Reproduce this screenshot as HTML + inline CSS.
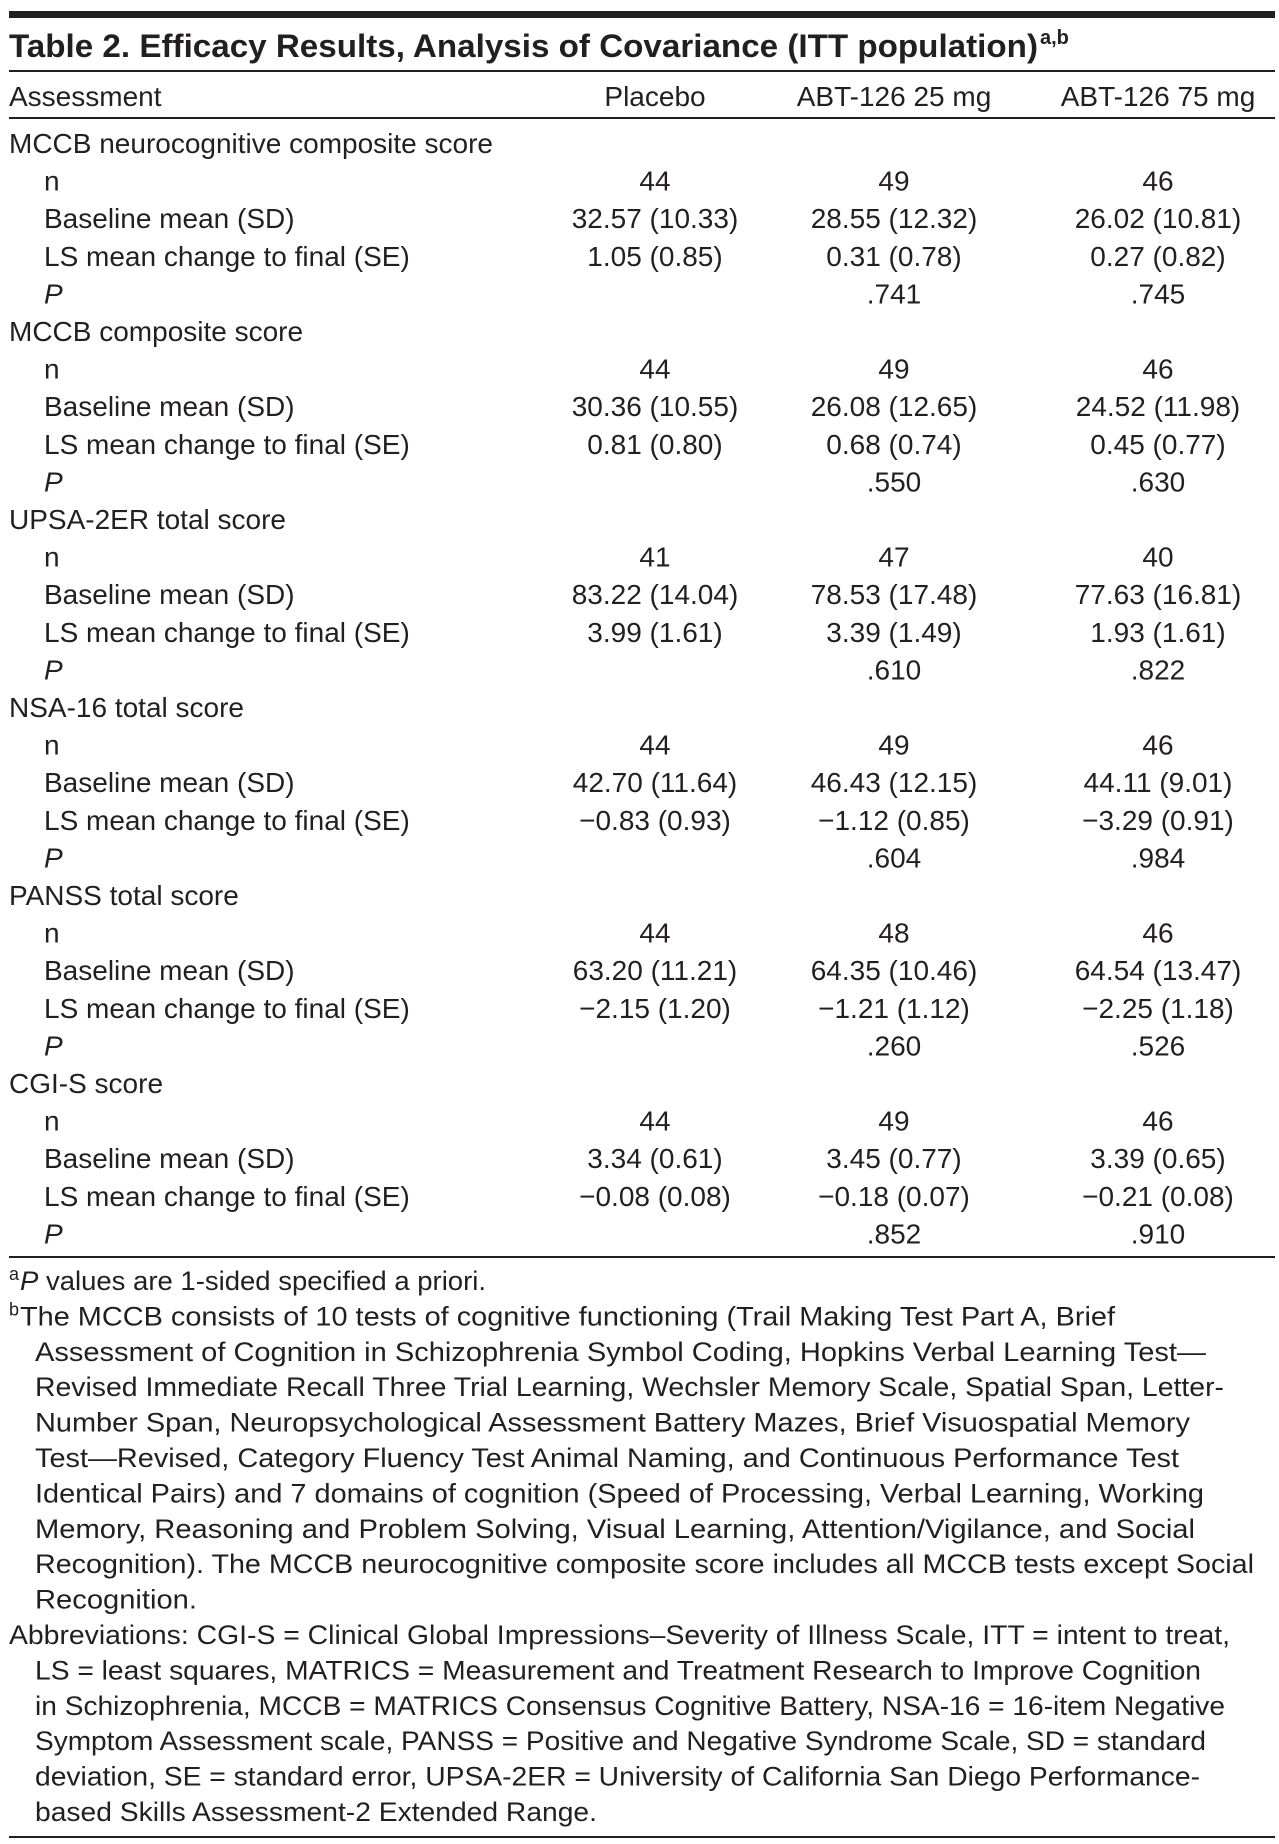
<!DOCTYPE html>
<html><head><meta charset="utf-8"><style>
html,body{margin:0;padding:0;background:#fff}
svg{display:block}
text{font-family:"Liberation Sans",sans-serif;fill:#231f20}
</style></head><body>
<svg id="tbl" width="1279" height="1844" viewBox="0 0 1279 1844" xmlns="http://www.w3.org/2000/svg">
<rect x="9" y="11" width="1266" height="7" fill="#231f20"/>
<text x="9" y="57" font-size="32" font-weight="bold" textLength="1029" lengthAdjust="spacingAndGlyphs">Table 2. Efficacy Results, Analysis of Covariance (ITT population)</text>
<text x="1040" y="44" font-size="20" font-weight="bold">a,b</text>
<rect x="9" y="70" width="1266" height="2" fill="#231f20"/>
<text x="9" y="106" font-size="28">Assessment</text>
<text x="655" y="106" font-size="28" text-anchor="middle">Placebo</text>
<text x="894" y="106" font-size="28" text-anchor="middle">ABT-126 25 mg</text>
<text x="1158" y="106" font-size="28" text-anchor="middle">ABT-126 75 mg</text>
<rect x="9" y="117" width="1266" height="2" fill="#231f20"/>
<g id="rows"></g>
<rect x="9" y="1256" width="1266" height="2" fill="#231f20"/>
<g id="notes"></g>
<rect x="9" y="1836" width="1266" height="2" fill="#231f20"/>
</svg>
<script>
const sections = ["MCCB neurocognitive composite score","MCCB composite score","UPSA-2ER total score","NSA-16 total score","PANSS total score","CGI-S score"];
const nVals = [["44","49","46"],["44","49","46"],["41","47","40"],["44","49","46"],["44","48","46"],["44","49","46"]];
const baseVals = [["32.57 (10.33)","28.55 (12.32)","26.02 (10.81)"],["30.36 (10.55)","26.08 (12.65)","24.52 (11.98)"],["83.22 (14.04)","78.53 (17.48)","77.63 (16.81)"],["42.70 (11.64)","46.43 (12.15)","44.11 (9.01)"],["63.20 (11.21)","64.35 (10.46)","64.54 (13.47)"],["3.34 (0.61)","3.45 (0.77)","3.39 (0.65)"]];
const lsVals = [["1.05 (0.85)","0.31 (0.78)","0.27 (0.82)"],["0.81 (0.80)","0.68 (0.74)","0.45 (0.77)"],["3.99 (1.61)","3.39 (1.49)","1.93 (1.61)"],["\u22120.83 (0.93)","\u22121.12 (0.85)","\u22123.29 (0.91)"],["\u22122.15 (1.20)","\u22121.21 (1.12)","\u22122.25 (1.18)"],["\u22120.08 (0.08)","\u22120.18 (0.07)","\u22120.21 (0.08)"]];
const pVals = [["",".741",".745"],["",".550",".630"],["",".610",".822"],["",".604",".984"],["",".260",".526"],["",".852",".910"]];
const rowLabels = ["n","Baseline mean (SD)","LS mean change to final (SE)","P"];
const colX = [655, 894, 1158];
const NS = "http://www.w3.org/2000/svg";
const rowsG = document.getElementById('rows');
const y0 = 153, step = 37.6;
function mk(parent, x, y, str, anchor, italic, size) {
  const t = document.createElementNS(NS, 'text');
  t.setAttribute('x', x); t.setAttribute('y', y);
  t.setAttribute('font-size', size || 28);
  if (anchor) t.setAttribute('text-anchor', anchor);
  if (italic) t.setAttribute('font-style', 'italic');
  t.textContent = str;
  parent.appendChild(t);
  return t;
}
let r = 0;
sections.forEach((s, i) => {
  const h = mk(rowsG, 9, y0 + r * step, s);
  
  
  r++;
  const data = [nVals[i], baseVals[i], lsVals[i], pVals[i]];
  data.forEach((vals, k) => {
    const y = y0 + r * step;
    const l = mk(rowsG, 44, y, rowLabels[k], null, k === 3);
    
    
    vals.forEach((v, c) => {
      if (!v) return;
      const cell = mk(rowsG, colX[c], y, v, 'middle');
      
      
    });
    r++;
  });
});
const noteLines = [
 ["a","P values are 1-sided specified a priori.",486,0],
 ["b","The MCCB consists of 10 tests of cognitive functioning (Trail Making Test Part A, Brief",1115,0],
 ["","Assessment of Cognition in Schizophrenia Symbol Coding, Hopkins Verbal Learning Test\u2014",1206,1],
 ["","Revised Immediate Recall Three Trial Learning, Wechsler Memory Scale, Spatial Span, Letter-",1224,1],
 ["","Number Span, Neuropsychological Assessment Battery Mazes, Brief Visuospatial Memory",1190,1],
 ["","Test\u2014Revised, Category Fluency Test Animal Naming, and Continuous Performance Test",1179,1],
 ["","Identical Pairs) and 7 domains of cognition (Speed of Processing, Verbal Learning, Working",1204,1],
 ["","Memory, Reasoning and Problem Solving, Visual Learning, Attention/Vigilance, and Social",1195,1],
 ["","Recognition). The MCCB neurocognitive composite score includes all MCCB tests except Social",1254,1],
 ["","Recognition.",197,1],
 ["","Abbreviations: CGI-S = Clinical Global Impressions\u2013Severity of Illness Scale, ITT = intent to treat,",1230,0],
 ["","LS = least squares, MATRICS = Measurement and Treatment Research to Improve Cognition",1201,1],
 ["","in Schizophrenia, MCCB = MATRICS Consensus Cognitive Battery, NSA-16 = 16-item Negative",1225,1],
 ["","Symptom Assessment scale, PANSS = Positive and Negative Syndrome Scale, SD = standard",1206,1],
 ["","deviation, SE = standard error, UPSA-2ER = University of California San Diego Performance-",1200,1],
 ["","based Skills Assessment-2 Extended Range.",597,1]
];
const notesG = document.getElementById('notes');
noteLines.forEach((ln, i) => {
  const y = 1290 + i * 35.4;
  let x = ln[3] ? 35 : 9;
  if (ln[0]) {
    const s = mk(notesG, 9, y - 10, ln[0], null, false, 18);
    
    
    x = 20;
  }
  let t;
  if (i === 0) {
    t = mk(notesG, x, y, '', null, false, 27);
    const ts = document.createElementNS(NS, 'tspan');
    ts.setAttribute('font-style', 'italic');
    ts.textContent = 'P';
    t.appendChild(ts);
    t.appendChild(document.createTextNode(ln[1].slice(1)));
  } else {
    t = mk(notesG, x, y, ln[1], null, false, 27);
  }
  t.setAttribute('textLength', ln[2] - x);
  t.setAttribute('lengthAdjust', 'spacingAndGlyphs');
  
  
});
</script>
</body></html>
